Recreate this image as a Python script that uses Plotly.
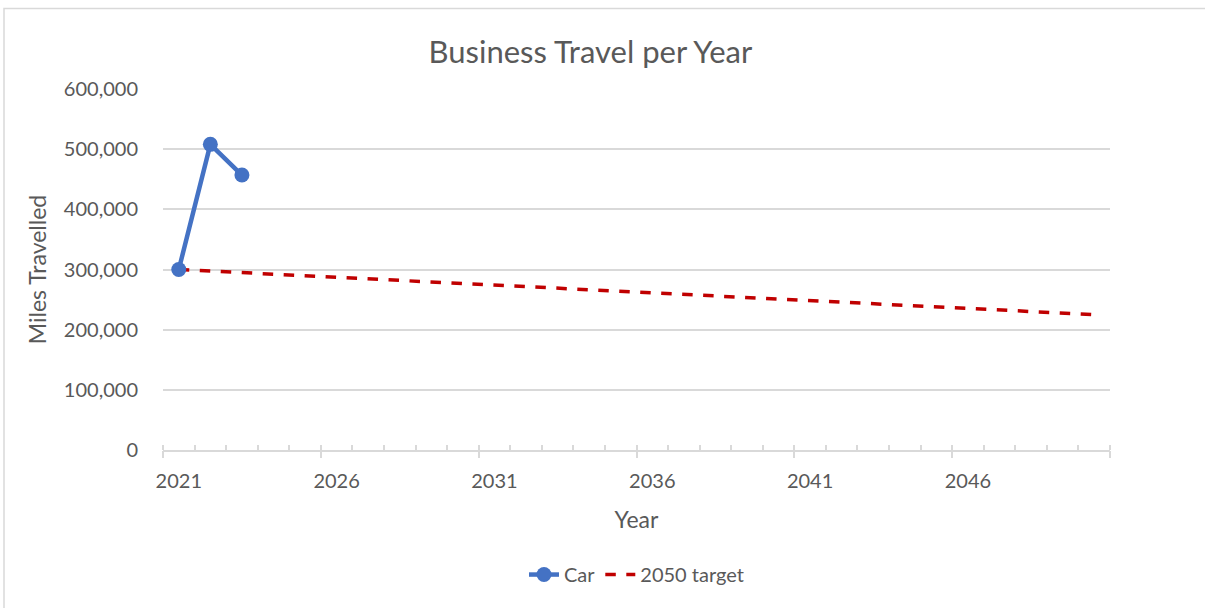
import plotly.graph_objects as go

years = list(range(2021, 2051))
car_years = [2021, 2022, 2023]
car_miles = [300000, 508000, 457000]
target_miles = [300000, 297400, 294800, 292200, 289700, 287100, 284500, 281900,
                279300, 276700, 274100, 271600, 269000, 266400, 263800, 261200,
                258600, 256000, 253400, 250900, 248300, 245700, 243100, 240500,
                237900, 235300, 232800, 230200, 227600, 225000]
label_years = [2021, 2026, 2031, 2036, 2041, 2046]
y_ticks = [0, 100000, 200000, 300000, 400000, 500000, 600000]

FONT = "Lato"
GREY = "#595959"
LINE = "#d9d9d9"

fig = go.Figure()
fig.add_trace(go.Scatter(x=years, y=target_miles, name="2050 target", mode="lines",
                         line=dict(color="#C00000", width=3.5, dash="dash")))
fig.add_trace(go.Scatter(x=car_years, y=car_miles, name="Car", mode="lines+markers",
                         line=dict(color="#4472C4", width=4.5),
                         marker=dict(color="#4472C4", size=15)))
# invisible trace to host the boundary-tick axis
fig.add_trace(go.Scatter(x=[years[0]], y=[0], xaxis="x2", mode="markers",
                         marker=dict(opacity=0), showlegend=False, hoverinfo="skip"))

boundaries = [y - 0.5 for y in years] + [years[-1] + 0.5]
major_bounds = [b for i, b in enumerate(boundaries) if i % 5 == 0] + [boundaries[-1]]

fig.update_layout(
    width=1205, height=608,
    margin=dict(l=163, r=95, t=89, b=158),
    paper_bgcolor="white", plot_bgcolor="white",
    font=dict(family=FONT, color=GREY, size=20),
    title=dict(text="Business Travel per Year", x=0.49, xanchor="center",
               y=1 - 52/608, yanchor="middle", font=dict(size=31, color=GREY)),
    xaxis=dict(range=[2020.5, 2050.5], tickvals=label_years, ticktext=[str(v) for v in label_years],
               ticks="outside", ticklen=12, tickcolor="rgba(0,0,0,0)", showgrid=False, zeroline=False,
               showline=True, linecolor=LINE, linewidth=1.5,
               tickfont=dict(size=20, color=GREY),
               minor=dict(tickvals=boundaries, ticks="inside", ticklen=5,
                          tickcolor=LINE, tickwidth=1.5, showgrid=False),
               title=dict(text="Year", font=dict(size=23, color=GREY), standoff=21)),
    xaxis2=dict(overlaying="x", anchor="y", side="bottom", range=[2020.5, 2050.5],
                tickvals=major_bounds, showticklabels=False, ticks="outside", ticklen=7,
                tickcolor=LINE, tickwidth=1.5, showgrid=False, zeroline=False, showline=False),
    yaxis=dict(range=[0, 600000], tickvals=y_ticks, tickformat=",", showgrid=True,
               gridcolor=LINE, gridwidth=1.5, zeroline=False, showline=False,
               ticks="outside", ticklen=20, tickcolor="rgba(0,0,0,0)",
               tickfont=dict(size=20, color=GREY),
               title=dict(text="Miles Travelled", font=dict(size=23, color=GREY), standoff=10)),
    legend=dict(orientation="h", x=0.5, xanchor="center", y=-0.345, yanchor="middle",
                traceorder="reversed", font=dict(size=20, color=GREY)),
    showlegend=True,
    shapes=[dict(type="rect", xref="paper", yref="paper",
                 x0=(4 - 163) / 947, x1=(1215 - 163) / 947,
                 y0=(450 - 620) / 361, y1=(450 - 8.5) / 361,
                 line=dict(color=LINE, width=1.5), fillcolor="rgba(0,0,0,0)", layer="below")],
)

fig.write_html("out.html")
